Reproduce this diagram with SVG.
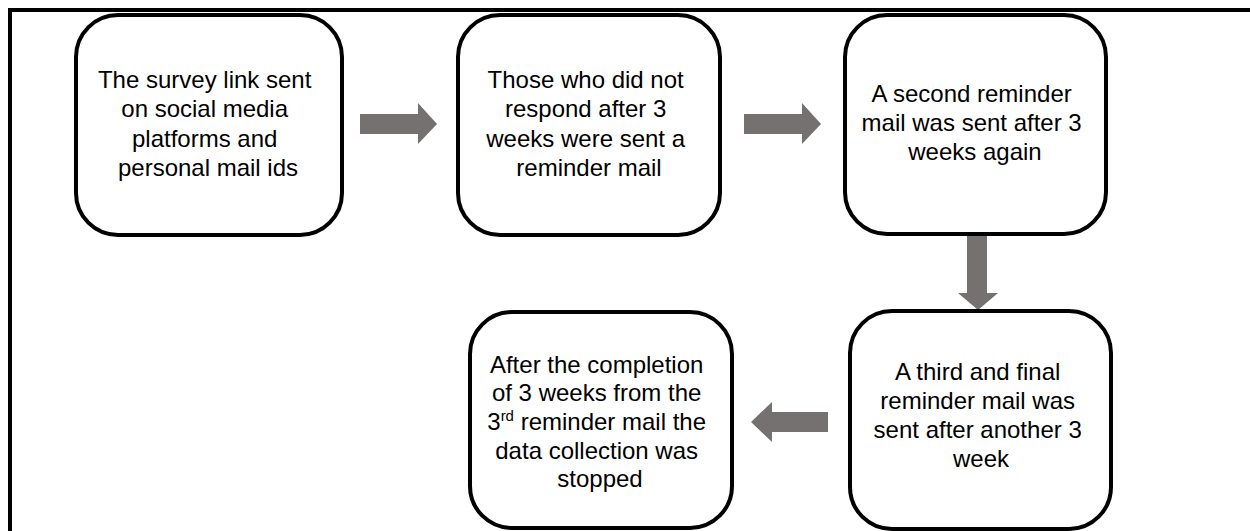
<svg xmlns="http://www.w3.org/2000/svg" width="1250" height="531" viewBox="0 0 1250 531">
  <style>
    .box { fill: #ffffff; stroke: #000000; stroke-width: 4; }
    .arrow { fill: #767171; stroke: none; }
    .lbl { font-family: "Liberation Sans", Arial, sans-serif; font-size: 24px; fill: #000000; text-anchor: middle; }
    .sup { font-size: 15px; }
  </style>
  <rect x="0" y="0" width="1250" height="531" fill="#ffffff"/>
  <rect id="frame" x="10" y="10" width="1260" height="560" fill="none" stroke="#000000" stroke-width="4"/>

  <g id="connectors">
    <polygon class="arrow" points="360,114 418,114 418,103 437,124 418,144 418,134 360,134"/>
    <polygon class="arrow" points="744,114 802,114 802,103 821,124 802,144 802,134 744,134"/>
    <polygon class="arrow" points="967,235 987,235 987,293 998,293 978,310 958,293 967,293"/>
    <polygon class="arrow" points="828,412 772,412 772,402 751,422 772,442 772,432 828,432"/>
  </g>

  <g id="node1">
    <rect class="box" x="76" y="15" width="266" height="220" rx="42" ry="42"/>
    <text class="lbl">
      <tspan x="208" y="88">The survey link sent</tspan>
      <tspan x="208" y="117.3">on social media</tspan>
      <tspan x="208" y="146.7">platforms and</tspan>
      <tspan x="208" y="176">personal mail ids</tspan>
    </text>
  </g>

  <g id="node2">
    <rect class="box" x="458" y="15" width="262" height="220" rx="42" ry="42"/>
    <text class="lbl">
      <tspan x="589" y="88">Those who did not</tspan>
      <tspan x="589" y="117.3">respond after 3</tspan>
      <tspan x="589" y="146.7">weeks were sent a</tspan>
      <tspan x="589" y="176">reminder mail</tspan>
    </text>
  </g>

  <g id="node3">
    <rect class="box" x="845" y="15" width="261" height="219" rx="42" ry="42"/>
    <text class="lbl">
      <tspan x="975" y="101.7">A second reminder</tspan>
      <tspan x="975" y="130.7">mail was sent after 3</tspan>
      <tspan x="975" y="160">weeks again</tspan>
    </text>
  </g>

  <g id="node4">
    <rect class="box" x="850" y="311" width="261" height="218" rx="42" ry="42"/>
    <text class="lbl">
      <tspan x="981" y="380">A third and final</tspan>
      <tspan x="981" y="409.3">reminder mail was</tspan>
      <tspan x="981" y="438.3">sent after another 3</tspan>
      <tspan x="981" y="466.7">week</tspan>
    </text>
  </g>

  <g id="node5">
    <rect class="box" x="470" y="312" width="262" height="216" rx="42" ry="42"/>
    <text class="lbl">
      <tspan x="600" y="372.5">After the completion</tspan>
      <tspan x="600" y="401.2">of 3 weeks from the</tspan>
      <tspan x="600" y="430">3<tspan class="sup" dy="-9">rd</tspan><tspan dy="9"> reminder mail the</tspan></tspan>
      <tspan x="600" y="458.7">data collection was</tspan>
      <tspan x="600" y="487.4">stopped</tspan>
    </text>
  </g>
</svg>
